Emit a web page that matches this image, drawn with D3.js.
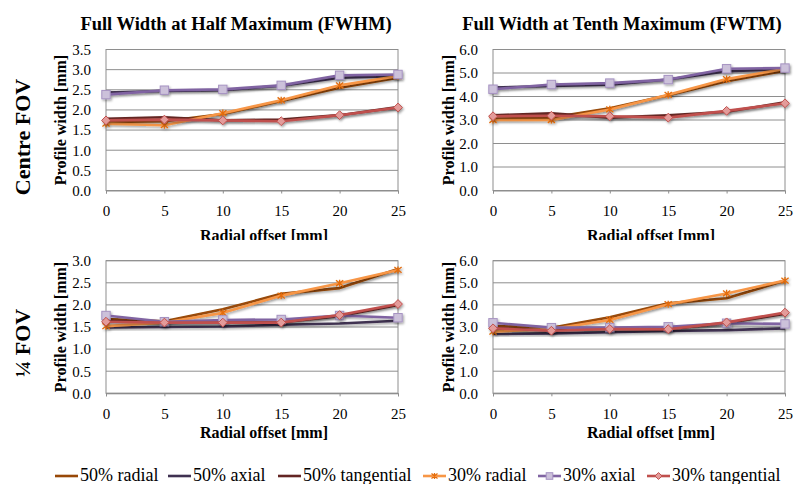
<!DOCTYPE html>
<html><head><meta charset="utf-8">
<script src="https://cdn.jsdelivr.net/npm/d3@7"></script>
<style>
html,body{margin:0;padding:0;background:#fff;}
svg{display:block;}
</style></head>
<body>
<svg id="chart" width="794" height="484"></svg>
<script>
// ---- data ----
const radialOffsets = [0, 5, 10, 15, 20, 25];
const seriesNames = ["50% radial", "50% axial", "50% tangential", "30% radial", "30% axial", "30% tangential"];
const panelTitles = ["Full Width at Half Maximum (FWHM)", "Full Width at Tenth Maximum (FWTM)"];
const rowLabels = ["Centre FOV", "\u00BC FOV"];
const xAxisTitle = "Radial offset [mm]";
const yAxisTitle = "Profile width [mm]";

// rows in order of seriesNames
const fwhmCentre = [
  [1.70, 1.72, 1.90, 2.22, 2.55, 2.80],
  [2.43, 2.47, 2.49, 2.60, 2.80, 2.84],
  [1.78, 1.82, 1.74, 1.76, 1.87, 2.07],
  [1.66, 1.62, 1.92, 2.24, 2.61, 2.84],
  [2.38, 2.49, 2.51, 2.61, 2.86, 2.88],
  [1.74, 1.76, 1.74, 1.72, 1.87, 2.06]
];
const fwtmCentre = [
  [3.05, 3.10, 3.50, 4.05, 4.65, 5.10],
  [4.38, 4.45, 4.50, 4.72, 5.08, 5.15],
  [3.20, 3.28, 3.10, 3.20, 3.35, 3.75],
  [3.00, 3.00, 3.45, 4.07, 4.74, 5.18],
  [4.31, 4.51, 4.57, 4.72, 5.18, 5.21],
  [3.16, 3.18, 3.16, 3.10, 3.39, 3.71]
];
const fwhmQuarter = [
  [1.68, 1.63, 1.90, 2.25, 2.38, 2.81],
  [1.49, 1.50, 1.51, 1.55, 1.58, 1.64],
  [1.64, 1.60, 1.60, 1.60, 1.75, 2.00],
  [1.52, 1.60, 1.82, 2.21, 2.49, 2.79],
  [1.76, 1.62, 1.66, 1.67, 1.76, 1.71],
  [1.62, 1.60, 1.60, 1.60, 1.77, 2.02]
];
const fwtmQuarter = [
  [3.05, 2.97, 3.44, 4.07, 4.30, 5.10],
  [2.68, 2.71, 2.76, 2.82, 2.86, 2.94],
  [2.95, 2.85, 2.92, 2.90, 3.18, 3.60],
  [2.79, 2.91, 3.32, 4.03, 4.52, 5.10],
  [3.19, 2.97, 2.97, 3.01, 3.17, 3.14],
  [2.94, 2.83, 2.91, 2.90, 3.21, 3.65]
];
const yMaxes = [3.5, 6, 3, 6];
const yStepSizes = [0.5, 1, 0.5, 1];

// ---- styles ----
const lineColors = ["#984807", "#3F3151", "#632523", "#F79646", "#8064A2", "#C0504D"];
const markerTypes = [null, null, null, "star", "square", "diamond"];
const SERIF = "Liberation Serif";

const svg = d3.select("#chart");
const defs = svg.append("defs");
const f = defs.append("filter").attr("id","shadow").attr("x","-10%").attr("y","-30%").attr("width","130%").attr("height","180%");
f.append("feDropShadow").attr("dx",1.2).attr("dy",1.6).attr("stdDeviation",1).attr("flood-color","#000").attr("flood-opacity",0.35);
defs.append("clipPath").attr("id","topclip").append("rect").attr("x",0).attr("y",0).attr("width",794).attr("height",240);

const panels = [
  {data: fwhmCentre, x0:106, x1:398, y0:49.5, y1:190.5, col:0, row:0},
  {data: fwtmCentre, x0:493, x1:785, y0:49.5, y1:190.5, col:1, row:0},
  {data: fwhmQuarter, x0:106, x1:398, y0:260.7, y1:393.3, col:0, row:1},
  {data: fwtmQuarter, x0:493, x1:785, y0:260.7, y1:393.3, col:1, row:1}
];

function txt(sel) { return sel.style("font-family", SERIF).attr("fill", "#000"); }

function drawMarker(g, type, size) {
  if (type === "square") {
    g.append("rect").attr("x",-size).attr("y",-size).attr("width",size*2).attr("height",size*2)
      .attr("fill","#CCC1DA").attr("stroke","#A693C2").attr("stroke-width",1);
  } else if (type === "diamond") {
    const s = size*1.05;
    g.append("path").attr("d",`M0,${-s}L${s},0L0,${s}L${-s},0Z`)
      .attr("fill","#E39B9A").attr("stroke","#C0504D").attr("stroke-width",1);
  } else if (type === "star") {
    const s = size;
    g.append("path").attr("d",`M${-s},${-s*0.8}L${s},${s*0.8}M${-s},${s*0.8}L${s},${-s*0.8}M0,${-s}L0,${s}`)
      .attr("stroke","#E46C0A").attr("stroke-width",1.3).attr("fill","none");
  }
}

panels.forEach((p, pi) => {
  const x = d3.scaleLinear().domain([0, 25]).range([p.x0, p.x1]);
  const y = d3.scaleLinear().domain([0, yMaxes[pi]]).range([p.y1, p.y0]);
  const ticks = d3.range(0, yMaxes[pi] + 1e-9, yStepSizes[pi]);
  const g = svg.append("g");

  // gridlines
  g.append("g").selectAll("line").data(ticks).join("line")
    .attr("x1", p.x0).attr("x2", p.x1)
    .attr("y1", d => y(d)).attr("y2", d => y(d))
    .attr("stroke", "#8E8E8E").attr("stroke-width", 1);
  // plot border
  g.append("rect").attr("x", p.x0).attr("y", y(yMaxes[pi])).attr("width", p.x1 - p.x0).attr("height", p.y1 - y(yMaxes[pi]))
    .attr("fill", "none").attr("stroke", "#8E8E8E").attr("stroke-width", 1);

  // y axis
  const yAxis = d3.axisLeft(y).tickValues(ticks).tickFormat(d3.format(".1f")).tickSize(0).tickPadding(15);
  const ya = g.append("g").attr("transform", `translate(${p.x0},0)`).call(yAxis);
  ya.select(".domain").remove();
  txt(ya.selectAll("text").attr("font-size", 15));

  // x axis
  const xAxis = d3.axisBottom(x).tickValues(radialOffsets).tickFormat(d3.format("d")).tickSize(3).tickPadding(12);
  const xa = g.append("g").attr("transform", `translate(0,${p.y1})`).call(xAxis);
  xa.select(".domain").attr("stroke", "#8E8E8E");
  xa.selectAll("line").attr("stroke", "#8E8E8E");
  txt(xa.selectAll("text").attr("font-size", 15));

  // axis titles
  const xt = txt(g.append("text").attr("x", (p.x0 + p.x1) / 2 + 12).attr("y", p.row === 0 ? 241 : 437.5)
    .attr("text-anchor", "middle").attr("font-size", 16).attr("font-weight", "bold").text(xAxisTitle));
  if (p.row === 0) xt.attr("clip-path", "url(#topclip)");
  txt(g.append("text").attr("transform", `translate(${p.col === 0 ? 66 : 454},${(p.y0 + p.y1) / 2}) rotate(-90)`)
    .attr("text-anchor", "middle").attr("font-size", 16).attr("font-weight", "bold").text(yAxisTitle));

  // series
  const line = d3.line().x((d, i) => x(radialOffsets[i])).y(d => y(d));
  p.data.forEach((vals, si) => {
    const sg = g.append("g").attr("filter", "url(#shadow)");
    sg.append("path").attr("d", line(vals)).attr("fill", "none")
      .attr("stroke", lineColors[si]).attr("stroke-width", 2.6).attr("stroke-linejoin", "round");
    if (markerTypes[si]) {
      vals.forEach((v, i) => {
        const mg = sg.append("g").attr("transform", `translate(${x(radialOffsets[i])},${y(v)})`);
        drawMarker(mg, markerTypes[si], markerTypes[si] === "star" ? 3.6 : 4.2);
      });
    }
  });
});

// column titles
[236, 622].forEach((cx, i) => {
  txt(svg.append("text").attr("x", cx).attr("y", 29.5).attr("text-anchor", "middle")
    .attr("font-size", 18.5).attr("font-weight", "bold").text(panelTitles[i]));
});
// row labels
[137, 343].forEach((cy, i) => {
  txt(svg.append("text").attr("transform", `translate(30,${cy}) rotate(-90)`).attr("text-anchor", "middle")
    .attr("font-size", 22).attr("font-weight", "bold").text(rowLabels[i]));
});

// legend
const legendStarts = [55, 168, 278, 423, 538, 647];
const ly = 476;
seriesNames.forEach((name, si) => {
  const lx = legendStarts[si];
  const lg = svg.append("g");
  lg.append("line").attr("x1", lx).attr("x2", lx + 23).attr("y1", ly).attr("y2", ly)
    .attr("stroke", lineColors[si]).attr("stroke-width", 2.6);
  if (markerTypes[si]) {
    const mg = lg.append("g").attr("transform", `translate(${lx + 11.5},${ly})`);
    drawMarker(mg, markerTypes[si], markerTypes[si] === "star" ? 3 : 3.3);
  }
  txt(lg.append("text").attr("x", lx + 25).attr("y", 481).attr("font-size", 18).text(name));
});
</script>
</body></html>
